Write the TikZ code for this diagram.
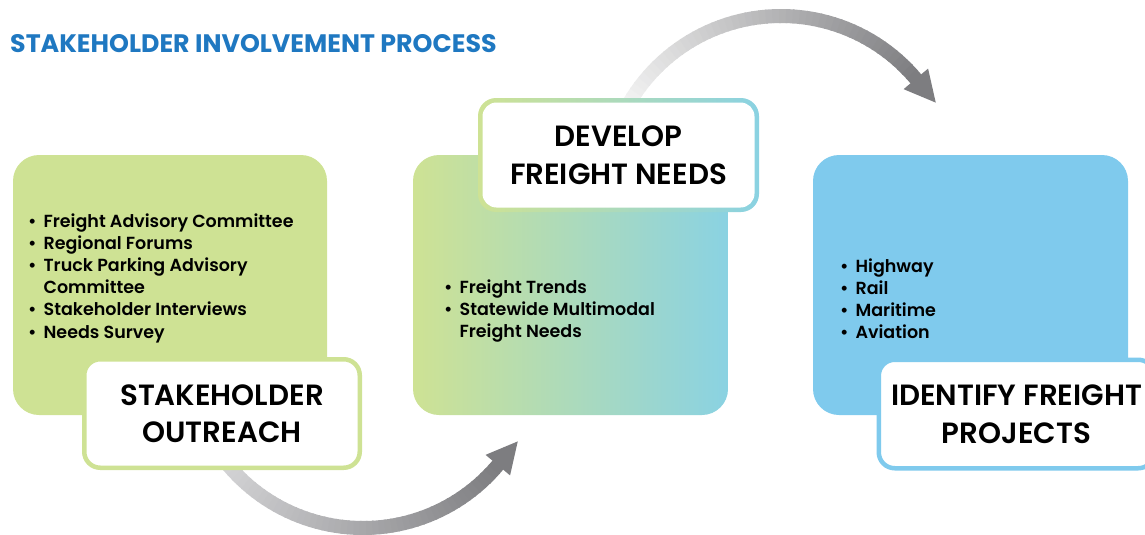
\documentclass[tikz,border=0pt]{standalone}
\usepackage{fontspec}
\usetikzlibrary{calc}
\setmainfont{Poppins}
\IfFontExistsTF{Poppins SemiBold}{\newfontfamily\bulletfont{Poppins SemiBold}}{\newfontfamily\bulletfont[FakeBold=0.8]{Poppins}}
\IfFontExistsTF{Poppins SemiBold}{\newfontfamily\labelfont{Poppins SemiBold}}{\newfontfamily\labelfont[FakeBold=0.8]{Poppins}}
\definecolor{titleblue}{RGB}{31,120,193}
\definecolor{boxgreen}{RGB}{206,226,148}
\definecolor{boxteal}{RGB}{138,210,226}
\definecolor{boxblue}{RGB}{127,202,237}
\definecolor{arcstartA}{RGB}{212,212,214}
\definecolor{arcstartB}{RGB}{242,242,242}
\definecolor{arcend}{RGB}{125,125,128}
\begin{document}
\begin{tikzpicture}[x=1pt,y=-1pt,
  bigbox/.style={rounded corners=26pt, minimum width=314pt, minimum height=260pt, inner sep=0pt},
  labelbox/.style={rounded corners=16pt, fill=white, line width=4.5pt, minimum width=275.5pt, minimum height=108.5pt, inner sep=0pt, align=center, font=\labelfont\fontsize{29.3}{37.5}\selectfont},
  bullets/.style={anchor=base west, inner sep=0pt, font=\bulletfont\fontsize{17.5}{22.2}\selectfont},
  shaftseg/.style={line width=14pt}
]
\useasboundingbox (0,0) rectangle (1145,535);

% title
\node[anchor=base west, inner sep=0pt, text=titleblue, font=\fontsize{25.3}{30}\selectfont\bfseries] (title) at (10,52.5) {STAKEHOLDER INVOLVEMENT PROCESS};

% arrow 1 (bottom)
\coordinate (c1) at (363,352);
\foreach \i in {0,...,49} {
  \pgfmathsetmacro\a{142-102*\i/50}
  \pgfmathsetmacro\b{142-102*(\i+1)/50-0.5}
  \pgfmathsetmacro\p{100*\i/49}
  \draw[shaftseg, color=arcend!\p!arcstartA] (c1) ++(\a:176) arc[start angle=\a, end angle=\b, radius=176];
}
\coordinate (h1b) at ($(c1)+(40:176)$);
\fill[arcend] ($(c1)+(40:160)$) -- ($(h1b)+(-50:31)$) -- ($(c1)+(40:192)$) -- cycle;

% arrow 2 (top)
\coordinate (c2) at (781,192);
\foreach \i in {0,...,49} {
  \pgfmathsetmacro\a{210+110*\i/50}
  \pgfmathsetmacro\b{210+110*(\i+1)/50+0.5}
  \pgfmathsetmacro\p{100*\i/49}
  \draw[shaftseg, color=arcend!\p!arcstartB] (c2) ++(\a:176) arc[start angle=\a, end angle=\b, radius=176];
}
\coordinate (h2b) at ($(c2)+(320:176)$);
\fill[arcend] ($(c2)+(320:160)$) -- ($(h2b)+(50:31)$) -- ($(c2)+(320:192)$) -- cycle;

% big boxes
\node[bigbox, fill=boxgreen] (b1) at (170,285) {};
\node[bigbox, left color=boxgreen, right color=boxteal, minimum width=315pt] (b2) at (570.5,285) {};
\node[bigbox, fill=boxblue, minimum width=315pt] (b3) at (970.5,285) {};

% bullets
\node[bullets] (t1) at (28,227) {\begin{tabular}[t]{@{}l@{\hspace{7pt}}l@{}}
\textbullet & Freight Advisory Committee\\
\textbullet & Regional Forums\\
\textbullet & Truck Parking Advisory\\
 & Committee\\
\textbullet & Stakeholder Interviews\\
\textbullet & Needs Survey
\end{tabular}};
\node[bullets] (t2) at (444,293) {\begin{tabular}[t]{@{}l@{\hspace{7pt}}l@{}}
\textbullet & Freight Trends\\
\textbullet & Statewide Multimodal\\
 & Freight Needs
\end{tabular}};
\node[bullets] (t3) at (840,272) {\begin{tabular}[t]{@{}l@{\hspace{7pt}}l@{}}
\textbullet & Highway\\
\textbullet & Rail\\
\textbullet & Maritime\\
\textbullet & Aviation
\end{tabular}};

% label boxes
\node[labelbox, draw=boxgreen] (l1) at (222,413.5) {STAKEHOLDER\\OUTREACH};
\node[rounded corners=18pt, left color=boxgreen, right color=boxteal, minimum width=281pt, minimum height=114pt, inner sep=0pt] (l2f) at (618.5,155) {};
\node[labelbox, minimum width=272pt, minimum height=105pt, rounded corners=14pt] (l2) at (l2f.center) {DEVELOP\\FREIGHT NEEDS};
\node[labelbox, draw=boxblue] (l3) at (1016.5,414) {IDENTIFY FREIGHT\\PROJECTS};
\end{tikzpicture}
\end{document}
